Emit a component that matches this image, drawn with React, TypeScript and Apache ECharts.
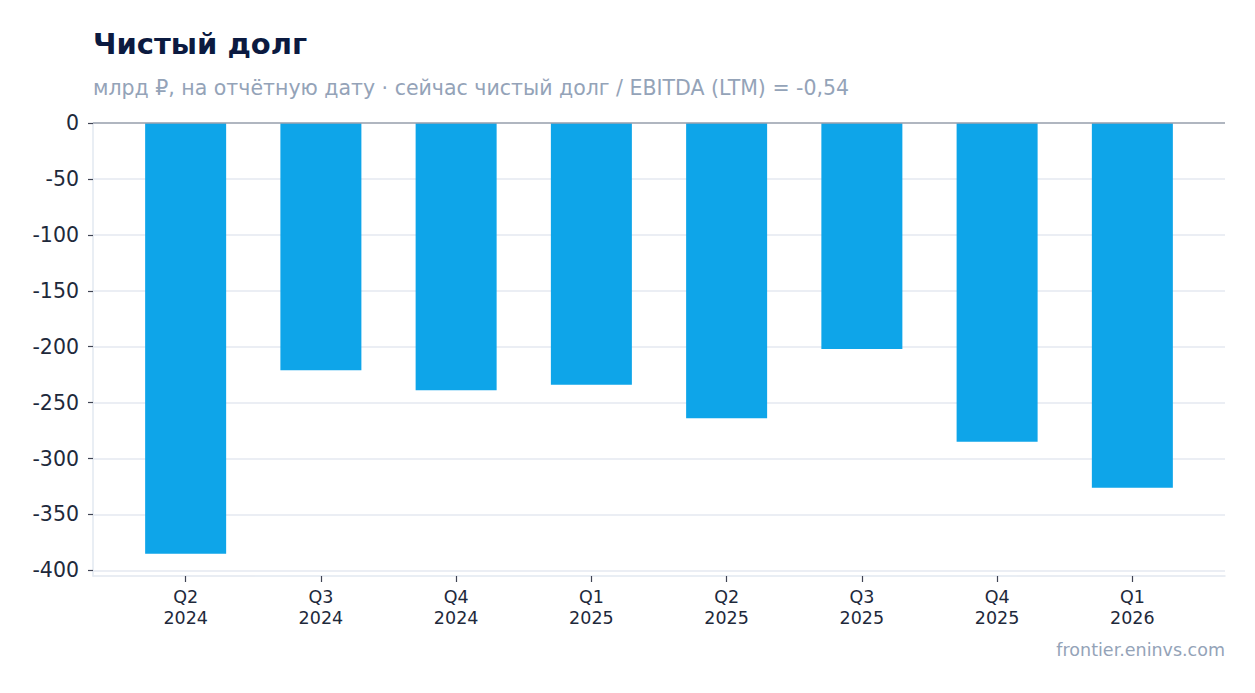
import React, { useEffect, useRef } from "react";
import * as echarts from "echarts";

const quarters = ["Q2", "Q3", "Q4", "Q1", "Q2", "Q3", "Q4", "Q1"];
const years = ["2024", "2024", "2024", "2025", "2025", "2025", "2025", "2026"];
const netDebt = [-385, -221, -239, -234, -264, -202, -285, -326];
const yTicks = [0, -50, -100, -150, -200, -250, -300, -350, -400];

const TITLE = "Чистый долг";
const SUBTITLE = "млрд ₽, на отчётную дату · сейчас чистый долг / EBITDA (LTM) = -0,54";
const FOOTER = "frontier.eninvs.com";

const FONT = "'DejaVu Sans', sans-serif";

export default function App() {
  const ref = useRef<HTMLDivElement>(null);

  useEffect(() => {
    document.body.style.margin = "0";
    if (!ref.current) return;
    const chart = echarts.init(ref.current, null, { renderer: "svg" });
    const xIdx = quarters.map((_, i) => i);
    chart.setOption({
      animation: false,
      backgroundColor: "#ffffff",
      textStyle: { fontFamily: FONT },
      grid: { left: 93, right: 30, top: 123, bottom: 117, containLabel: false },
      xAxis: {
        type: "value",
        min: -0.685,
        max: 7.685,
        position: "bottom",
        splitLine: { show: false },
        axisLine: { show: true, onZero: false, lineStyle: { color: "#e2e8f0", width: 1.5 } },
        axisTick: { show: true, customValues: xIdx, length: 6, lineStyle: { color: "#3f4454", width: 1.2 } },
        axisLabel: {
          customValues: xIdx,
          formatter: (v: number) => {
            const i = Math.round(v);
            return quarters[i] + "\n" + years[i];
          },
          color: "#1e293b",
          fontSize: 17.5,
          lineHeight: 21,
          margin: 10,
          fontFamily: FONT,
        },
      },
      yAxis: {
        type: "value",
        min: -405,
        max: 0,
        axisLine: { show: true, onZero: false, lineStyle: { color: "#e2e8f0", width: 1.5 } },
        axisTick: { show: true, customValues: yTicks, length: 5, lineStyle: { color: "#3f4454", width: 1.2 } },
        splitLine: { show: true, lineStyle: { color: "#e5e9f0", width: 1.5 } },
        axisLabel: {
          customValues: yTicks,
          formatter: (v: number) => String(v),
          color: "#1e293b",
          fontSize: 20.5,
          margin: 14,
          fontFamily: FONT,
        },
      },
      series: [
        {
          type: "bar",
          data: netDebt.map((v, i) => [i, v]),
          barWidth: 81,
          itemStyle: { color: "#0ea5e9" },
          markLine: {
            silent: true,
            symbol: "none",
            label: { show: false },
            lineStyle: { color: "#9ca3af", width: 1.5, type: "solid" },
            data: [{ yAxis: 0 }],
          },
        },
      ],
      graphic: [
        {
          type: "text",
          left: 93,
          top: 29,
          style: { text: TITLE, fontFamily: FONT, fontSize: 29, fontWeight: "bold", fill: "#0b1a40" },
        },
        {
          type: "text",
          left: 93,
          top: 77,
          style: { text: SUBTITLE, fontFamily: FONT, fontSize: 20.5, fill: "#94a3b8" },
        },
        {
          type: "text",
          right: 30,
          top: 641,
          style: { text: FOOTER, fontFamily: FONT, fontSize: 17.5, fill: "#94a3b8" },
        },
      ],
    });
    return () => chart.dispose();
  }, []);

  return <div ref={ref} style={{ width: 1255, height: 693 }} />;
}
